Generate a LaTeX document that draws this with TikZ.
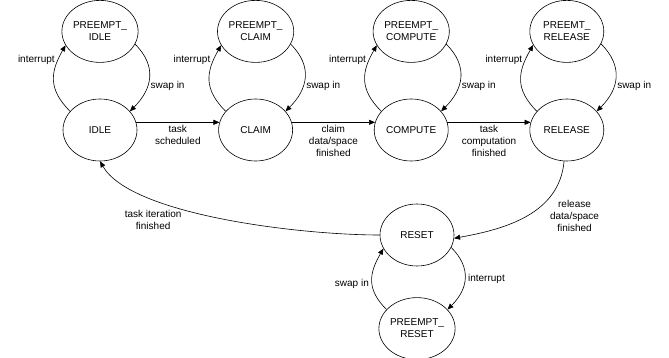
\documentclass[tikz,border=0pt]{standalone}
\usepackage{fontspec}
\setmainfont{Liberation Sans}
\usetikzlibrary{shapes.geometric,arrows.meta,positioning}

\begin{document}
\begin{tikzpicture}[
  x=1pt, y=1pt,
  font=\fontsize{10}{12}\selectfont,
  line width=0.6pt,
  state/.style={draw, ellipse, align=center, inner sep=0pt, minimum width=74pt, minimum height=62pt},
  arr/.style={-{Triangle[length=6pt, width=5pt]}},
  lbl/.style={inner sep=3pt, align=center},
]
\useasboundingbox (0,0) rectangle (669,-358);
\node[state] (idle) at (100,-130) {IDLE};
\node[state, right=81pt of idle] (claim) {CLAIM};
\node[state, right=81pt of claim] (compute) {COMPUTE};
\node[state, right=81pt of compute] (release) {RELEASE};
\node[state, above=36pt of idle] (pidle) {PREEMPT\_\\IDLE};
\node[state, above=36pt of claim] (pclaim) {PREEMPT\_\\CLAIM};
\node[state, above=36pt of compute] (pcompute) {PREEMPT\_\\COMPUTE};
\node[state, above=36pt of release] (prelease) {PREEMT\_\\RELEASE};
\node[state] (reset) at (417,-235) {RESET};
\node[state, below=31pt of reset] (preset) {PREEMPT\_\\RESET};
\draw[arr] (idle.148) to[out=135, in=240, looseness=1.2] node[lbl, left, pos=0.8] {interrupt} (pidle.202);
\draw[arr] (pidle.-20) to[out=-45, in=45, looseness=1.2] node[lbl, right, pos=0.62] {swap in} (idle.32);
\draw[arr] (claim.148) to[out=135, in=240, looseness=1.2] node[lbl, left, pos=0.8] {interrupt} (pclaim.202);
\draw[arr] (pclaim.-20) to[out=-45, in=45, looseness=1.2] node[lbl, right, pos=0.62] {swap in} (claim.32);
\draw[arr] (compute.148) to[out=135, in=240, looseness=1.2] node[lbl, left, pos=0.8] {interrupt} (pcompute.202);
\draw[arr] (pcompute.-20) to[out=-45, in=45, looseness=1.2] node[lbl, right, pos=0.62] {swap in} (compute.32);
\draw[arr] (release.148) to[out=135, in=240, looseness=1.2] node[lbl, left, pos=0.8] {interrupt} (prelease.202);
\draw[arr] (prelease.-20) to[out=-45, in=45, looseness=1.2] node[lbl, right, pos=0.62] {swap in} (release.32);
\draw[arr] (idle.12) -- node[lbl, below] {task\\scheduled} (claim.168);
\draw[arr] (claim.12) -- node[lbl, below] {claim\\data/space\\finished} (compute.168);
\draw[arr] (compute.12) -- node[lbl, below] {task\\computation\\finished} (release.168);
\draw[arr] (release.265) to[out=-95, in=10] node[lbl, right, pos=0.5, xshift=20pt] {release\\data/space\\finished} (reset.-5);
\draw[arr] (reset.west) to[out=180, in=-60, out looseness=0.7, in looseness=0.55] node[lbl, below, pos=0.7, yshift=-6pt, xshift=-6pt] {task iteration\\finished} (idle.south);
\draw[arr] (preset.148) to[out=135, in=240, looseness=1.2] node[lbl, left, pos=0.45] {swap in} (reset.202);
\draw[arr] (reset.-20) to[out=-45, in=45, looseness=1.2] node[lbl, right, pos=0.5] {interrupt} (preset.32);
\end{tikzpicture}
\end{document}
